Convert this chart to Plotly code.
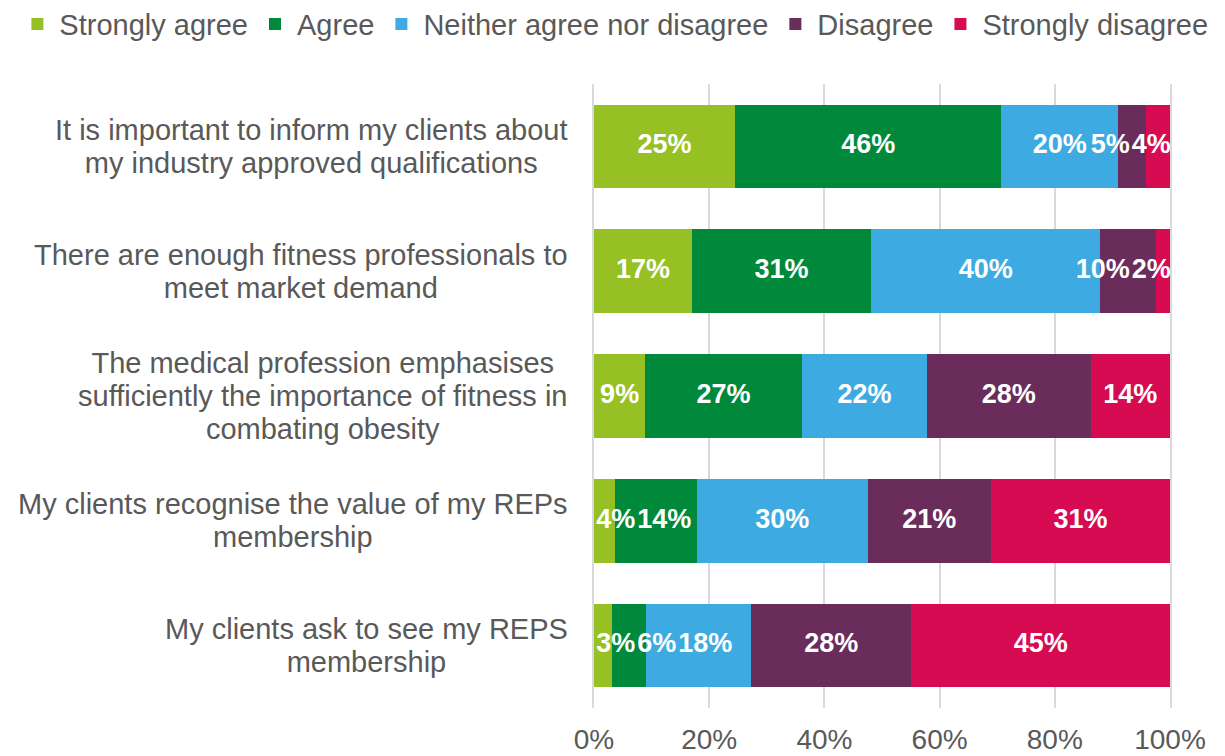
import plotly.graph_objects as go

categories = [
    "It is important to inform my clients about<br>my industry approved qualifications",
    "There are enough fitness professionals to<br>meet market demand",
    "The medical profession emphasises<br>sufficiently the importance of fitness in<br>combating obesity",
    "My clients recognise the value of my REPs<br>membership",
    "My clients ask to see my REPS<br>membership",
]
series_names = ["Strongly agree", "Agree", "Neither agree nor disagree", "Disagree", "Strongly disagree"]
strongly_agree = [24.5, 17.0, 8.9, 3.7, 3.1]
agree = [46.2, 31.1, 27.2, 14.2, 6.0]
neither = [20.3, 39.8, 21.7, 29.6, 18.2]
disagree = [4.8, 9.7, 28.4, 21.4, 27.8]
strongly_disagree = [4.2, 2.4, 13.8, 31.1, 44.9]
colors = ["#97C024", "#00893A", "#3DABE1", "#6A2C5B", "#D60B52"]
x_ticks = [0, 20, 40, 60, 80, 100]
x_tick_labels = ["0%", "20%", "40%", "60%", "80%", "100%"]

FONT = "Liberation Sans, Arial, sans-serif"
GREY = "#595959"
LABEL_SIZE = 27
all_series = [strongly_agree, agree, neither, disagree, strongly_disagree]

fig = go.Figure()
for name, vals, col in zip(series_names, all_series, colors):
    fig.add_trace(go.Bar(
        y=categories, x=vals, name=name, orientation="h",
        marker=dict(color=col, line=dict(width=0)),
        hoverinfo="x+name",
    ))

# value labels: centred on each stacked segment, then nudged apart so that
# neighbouring labels do not collide (as the original chart does)
UNITS_PER_PX = 100 / 576


def text_width_units(t):
    em = sum(0.556 if ch.isdigit() else 0.889 for ch in t)
    return (em * LABEL_SIZE + 2) * UNITS_PER_PX


lab_x, lab_y, lab_t = [], [], []
for j, cat in enumerate(categories):
    cum = 0.0
    centres, texts = [], []
    for vals in all_series:
        v = vals[j]
        centres.append(cum + v / 2)
        texts.append(f"{int(v + 0.5)}%")
        cum += v
    widths = [text_width_units(t) for t in texts]
    lo, hi = 0.2, 100.3
    for _ in range(200):
        for i in range(len(centres) - 1):
            need = (widths[i] + widths[i + 1]) / 2
            gap = centres[i + 1] - centres[i]
            if gap < need:
                d = (need - gap) / 2
                centres[i] -= d
                centres[i + 1] += d
        for i in range(len(centres)):
            centres[i] = max(centres[i], lo + widths[i] / 2)
            centres[i] = min(centres[i], hi - widths[i] / 2)
    lab_x += centres
    lab_y += [cat] * len(centres)
    lab_t += texts

fig.add_trace(go.Scatter(
    x=lab_x, y=lab_y, text=lab_t, mode="text", textposition="middle center",
    textfont=dict(family=FONT, size=LABEL_SIZE, color="white", weight="bold"),
    showlegend=False, hoverinfo="skip", cliponaxis=True,
))

for c in categories:
    lines = c.split("<br>")
    txt = "<br>".join(f'<span style="font-size:29px">{ln}</span>' for ln in lines)
    fig.add_annotation(
        x=-0.038, xref="paper", y=c, yref="y", text=txt, showarrow=False,
        xanchor="right", yanchor="middle", align="center",
        font=dict(family=FONT, size=25.5, color=GREY),
    )

fig.update_layout(
    barmode="stack",
    bargap=0.33,
    width=1225, height=756,
    margin=dict(l=594, r=0, t=84, b=48, autoexpand=False),
    paper_bgcolor="white", plot_bgcolor="white",
    legend=dict(
        orientation="h", x=-0.917, xanchor="left",
        y=1.055, yanchor="bottom",
        font=dict(family=FONT, size=29, color=GREY),
        itemwidth=34, traceorder="normal", tracegroupgap=0,
    ),
    font=dict(family=FONT, color=GREY),
)
fig.update_xaxes(
    domain=[0, 576 / 631],
    range=[0, 100], tickvals=x_ticks, ticktext=x_tick_labels,
    showgrid=True, gridcolor="#D9D9D9", gridwidth=1.5, zeroline=False,
    tickfont=dict(family=FONT, size=28, color=GREY),
    ticks="outside", ticklen=0, ticklabelstandoff=6,
    showline=False,
)
fig.update_yaxes(
    autorange="reversed", showticklabels=False, showgrid=False, zeroline=False,
    showline=True, linecolor="#D9D9D9", linewidth=1.5, mirror=True,
)

fig.write_html("out.html", config={"displayModeBar": False},
               post_script="document.body.style.margin='0';")
